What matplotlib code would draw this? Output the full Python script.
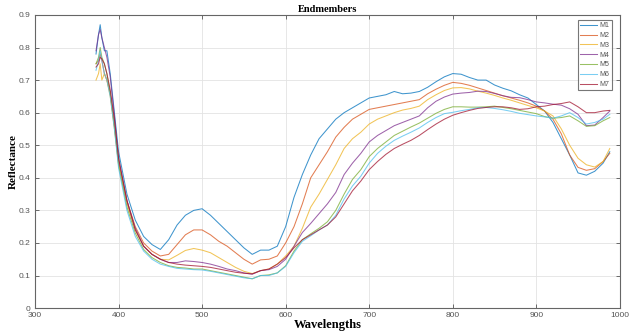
import matplotlib
matplotlib.use("Agg")
import matplotlib.pyplot as plt

wavelengths = [373, 376, 378, 380, 383, 386, 390, 395, 400, 410, 420, 430, 440, 450, 460, 470,
               480, 490, 500, 510, 520, 530, 540, 550, 560, 570, 580, 590, 600, 610, 620, 630,
               640, 650, 660, 670, 680, 690, 700, 710, 720, 730, 740, 750, 760, 770, 780, 790,
               800, 810, 820, 830, 840, 850, 860, 870, 880, 890, 900, 910, 920, 930, 940, 950,
               960, 970, 980, 988]

M1 = [0.78, 0.84, 0.87, 0.83, 0.79, 0.79, 0.72, 0.60, 0.48, 0.35, 0.27, 0.22, 0.195, 0.18, 0.21, 0.255,
      0.285, 0.30, 0.305, 0.285, 0.26, 0.235, 0.21, 0.185, 0.165, 0.178, 0.178, 0.19, 0.25, 0.34, 0.41, 0.47,
      0.52, 0.55, 0.58, 0.60, 0.615, 0.63, 0.645, 0.65, 0.655, 0.665, 0.658, 0.66, 0.665, 0.678, 0.695, 0.71,
      0.72, 0.718, 0.708, 0.70, 0.70, 0.685, 0.675, 0.667, 0.655, 0.645, 0.625, 0.605, 0.57, 0.52, 0.47, 0.415,
      0.408, 0.42, 0.445, 0.48]
M2 = [0.75, 0.76, 0.78, 0.76, 0.72, 0.70, 0.66, 0.56, 0.45, 0.33, 0.25, 0.20, 0.175, 0.16, 0.165, 0.195,
      0.225, 0.24, 0.24, 0.225, 0.205, 0.19, 0.17, 0.15, 0.135, 0.148, 0.15, 0.16, 0.20, 0.25, 0.32, 0.40,
      0.44, 0.48, 0.525, 0.555, 0.58, 0.595, 0.61, 0.615, 0.62, 0.625, 0.63, 0.635, 0.64, 0.658, 0.672, 0.684,
      0.693, 0.69, 0.684, 0.676, 0.668, 0.66, 0.652, 0.645, 0.638, 0.63, 0.62, 0.605, 0.58, 0.535, 0.47, 0.432,
      0.423, 0.428, 0.45, 0.475]
M3 = [0.70, 0.72, 0.75, 0.70, 0.72, 0.70, 0.65, 0.55, 0.44, 0.32, 0.24, 0.19, 0.165, 0.15, 0.148, 0.162,
      0.177, 0.183, 0.178, 0.17, 0.155, 0.14, 0.125, 0.113, 0.106, 0.115, 0.12, 0.135, 0.16, 0.19, 0.245, 0.31,
      0.35, 0.395, 0.44, 0.49, 0.52, 0.54, 0.565, 0.58, 0.59, 0.60, 0.608, 0.613, 0.62, 0.64, 0.655, 0.668,
      0.676, 0.677, 0.673, 0.666, 0.66, 0.653, 0.645, 0.638, 0.63, 0.622, 0.615, 0.605, 0.59, 0.55, 0.50, 0.46,
      0.44, 0.433, 0.45, 0.49]
M4 = [0.79, 0.84, 0.855, 0.83, 0.80, 0.77, 0.71, 0.59, 0.46, 0.33, 0.245, 0.19, 0.165, 0.15, 0.14, 0.14,
      0.145, 0.143, 0.14, 0.135, 0.128, 0.12, 0.115, 0.108, 0.104, 0.115, 0.118, 0.128, 0.15, 0.19, 0.232, 0.26,
      0.29, 0.32, 0.355, 0.41, 0.445, 0.475, 0.51, 0.53, 0.545, 0.56, 0.57, 0.58, 0.59, 0.615, 0.635, 0.648,
      0.657, 0.66, 0.662, 0.666, 0.665, 0.659, 0.652, 0.647, 0.646, 0.64, 0.633, 0.63, 0.626, 0.623, 0.612, 0.595,
      0.56, 0.562, 0.585, 0.605]
M5 = [0.75, 0.77, 0.80, 0.77, 0.75, 0.72, 0.66, 0.56, 0.44, 0.31, 0.23, 0.18, 0.155, 0.14, 0.13, 0.125,
      0.123, 0.12, 0.12, 0.115, 0.11, 0.105, 0.10, 0.095, 0.09, 0.10, 0.102, 0.108, 0.13, 0.175, 0.21, 0.228,
      0.245, 0.265, 0.30, 0.35, 0.395, 0.425, 0.465, 0.49, 0.51, 0.53, 0.543, 0.556, 0.568, 0.583, 0.598, 0.61,
      0.618, 0.618, 0.617, 0.617, 0.618, 0.62, 0.616, 0.612, 0.607, 0.602, 0.597, 0.588, 0.583, 0.585, 0.59, 0.575,
      0.558, 0.56, 0.575, 0.585]
M6 = [0.73, 0.76, 0.79, 0.76, 0.72, 0.70, 0.65, 0.55, 0.43, 0.30, 0.22, 0.175, 0.15, 0.135, 0.128, 0.122,
      0.12, 0.118, 0.117, 0.113, 0.108, 0.103, 0.098, 0.093, 0.09, 0.10, 0.10, 0.108, 0.128, 0.17, 0.205, 0.222,
      0.24, 0.255, 0.285, 0.335, 0.375, 0.405, 0.445, 0.475, 0.497, 0.515, 0.528, 0.54, 0.553, 0.57, 0.585, 0.597,
      0.601, 0.606, 0.61, 0.615, 0.616, 0.613, 0.609, 0.604, 0.598, 0.594, 0.59, 0.587, 0.583, 0.59, 0.60, 0.585,
      0.565, 0.57, 0.58, 0.595]
M7 = [0.74, 0.75, 0.77, 0.765, 0.75, 0.72, 0.67, 0.58, 0.46, 0.33, 0.24, 0.19, 0.165, 0.15, 0.14, 0.135,
      0.132, 0.13, 0.128, 0.125, 0.12, 0.115, 0.11, 0.107, 0.105, 0.115, 0.12, 0.135, 0.155, 0.185, 0.21, 0.225,
      0.24, 0.255, 0.28, 0.32, 0.36, 0.39, 0.425, 0.45, 0.472, 0.49, 0.503, 0.515, 0.53, 0.548, 0.565, 0.58,
      0.592, 0.60, 0.607, 0.613, 0.616, 0.618, 0.618, 0.615, 0.61, 0.612, 0.618, 0.62, 0.625, 0.628, 0.633, 0.618,
      0.60, 0.60, 0.605, 0.607]

series_names = ["M1", "M2", "M3", "M4", "M5", "M6", "M7"]
series_values = [M1, M2, M3, M4, M5, M6, M7]
colors = ["#0072BD", "#D95319", "#EDB120", "#7E2F8E", "#77AC30", "#4DBEEE", "#A2142F"]

x_ticks = [300, 400, 500, 600, 700, 800, 900, 1000]
y_ticks = [0, 0.1, 0.2, 0.3, 0.4, 0.5, 0.6, 0.7, 0.8, 0.9]
y_tick_labels = ["0", "0.1", "0.2", "0.3", "0.4", "0.5", "0.6", "0.7", "0.8", "0.9"]

fig = plt.figure(figsize=(6.37, 3.32), dpi=100)
ax = fig.add_axes([0.055, 0.072, 0.918, 0.883])

for name, vals, c in zip(series_names, series_values, colors):
    ax.plot(wavelengths, vals, color=c, lw=0.75, alpha=0.75, label=name)

ax.set_xlim(300, 1000)
ax.set_ylim(0, 0.9)
ax.set_xticks(x_ticks)
ax.set_yticks(y_ticks)
ax.set_yticklabels(y_tick_labels)
ax.grid(True, color="#e3e3e3", lw=0.6)
ax.set_axisbelow(True)
ax.tick_params(direction="in", length=3, width=0.6, labelsize=6, colors="#555555",
               top=True, right=True, pad=3)
for lab in ax.get_xticklabels() + ax.get_yticklabels():
    lab.set_family(["Liberation Sans", "DejaVu Sans"])
for sp in ax.spines.values():
    sp.set_color("#666666")
    sp.set_linewidth(0.8)

serif = ["Liberation Serif", "DejaVu Serif"]
ax.set_title("Endmembers", fontsize=7.5, fontweight="bold", family=serif, pad=2)
ax.set_xlabel("Wavelengths", fontsize=9, fontweight="bold", family=serif, labelpad=0)
ax.set_ylabel("Reflectance", fontsize=8, fontweight="bold", family=serif, labelpad=1)

leg = ax.legend(loc="upper right", prop={"family": ["Liberation Sans", "DejaVu Sans"], "size": 5},
                frameon=True, fancybox=False,
                handlelength=2.4, handletextpad=0.3, borderpad=0.35, labelspacing=0.4,
                borderaxespad=0, bbox_to_anchor=(0.986, 0.983))
leg.get_frame().set_edgecolor("#555555")
leg.get_frame().set_linewidth(0.8)
for t in leg.get_texts():
    t.set_color("#555555")

fig.savefig("out.png", dpi=100)
